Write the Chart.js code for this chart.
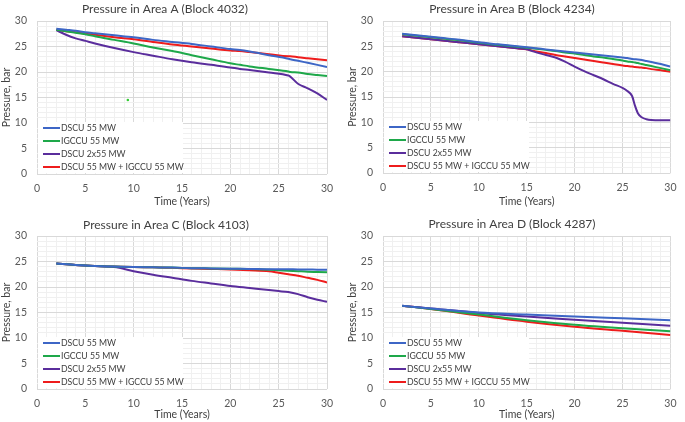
<!DOCTYPE html>
<html>
<head>
<meta charset="utf-8">
<script src="https://cdn.jsdelivr.net/npm/chart.js@4.4.1/dist/chart.umd.min.js"></script>
<style>
  html, body { margin: 0; padding: 0; background: #ffffff; }
  body { width: 685px; height: 422px; position: relative; overflow: hidden; }
  .panel { position: absolute; }
  canvas { display: block; }
</style>
</head>
<body>
<div class="panel" style="left:0px;top:0px;width:342px;height:211px"><canvas id="cA" width="342" height="211"></canvas></div>
<div class="panel" style="left:342px;top:0px;width:343px;height:211px"><canvas id="cB" width="343" height="211"></canvas></div>
<div class="panel" style="left:0px;top:211px;width:342px;height:211px"><canvas id="cC" width="342" height="211"></canvas></div>
<div class="panel" style="left:342px;top:211px;width:343px;height:211px"><canvas id="cD" width="343" height="211"></canvas></div>
<script>
// ---------- DATA ----------
const seriesNames = ['DSCU 55 MW', 'IGCCU 55 MW', 'DSCU 2x55 MW', 'DSCU 55 MW + IGCCU 55 MW'];
const panelTitles = ['Pressure in Area A (Block 4032)', 'Pressure in Area B (Block 4234)',
                     'Pressure in Area C (Block 4103)', 'Pressure in Area D (Block 4287)'];
const xAxisTitle = 'Time (Years)';
const yAxisTitle = 'Pressure, bar';
const axisTickLabels = [0, 5, 10, 15, 20, 25, 30];

// Area A
const yearsA = [2, 3, 4, 5, 6, 8, 10, 12, 14, 16, 18, 20, 21, 22, 24, 26, 26.2, 27, 28, 29, 30];
const dscuA  = [28.5, 28.3, 28.1, 27.8, 27.6, 27.2, 26.8, 26.3, 25.9, 25.5, 25.0, 24.5, 24.3, 24.0, 23.3, 22.6, 22.5, 22.2, 21.8, 21.4, 21.0];
const igccuA = [28.3, 28.0, 27.7, 27.4, 27.0, 26.3, 25.6, 24.8, 24.1, 23.3, 22.5, 21.7, 21.4, 21.1, 20.6, 20.1, 20.0, 19.9, 19.6, 19.4, 19.2];
const dscu2A = [28.2, 27.3, 26.6, 26.1, 25.6, 24.7, 23.9, 23.2, 22.5, 21.9, 21.4, 20.9, 20.6, 20.4, 19.9, 19.3, 19.1, 17.7, 16.8, 15.8, 14.5];
const comboA = [28.3, 28.0, 27.8, 27.5, 27.3, 26.8, 26.4, 25.9, 25.4, 25.0, 24.6, 24.2, 24.1, 23.9, 23.5, 23.1, 23.1, 22.9, 22.7, 22.5, 22.3];
const strayYearA = [9.4];
const strayValueA = [14.5];

// Area B
const yearsB = [2, 4, 6, 8, 10, 12, 14, 15, 15.5, 16, 17, 18, 19, 20, 21, 22, 23, 24, 25, 25.5, 26, 26.3, 26.6, 27, 27.5, 28, 29, 30];
const dscuB  = [27.5, 27.1, 26.7, 26.3, 25.8, 25.4, 25.0, 24.8, 24.7, 24.6, 24.4, 24.2, 24.0, 23.8, 23.6, 23.4, 23.2, 23.0, 22.8, 22.7, 22.5, 22.45, 22.4, 22.3, 22.1, 21.9, 21.5, 21.0];
const igccuB = [27.4, 27.0, 26.6, 26.2, 25.7, 25.3, 24.9, 24.7, 24.6, 24.5, 24.3, 24.1, 23.8, 23.6, 23.3, 23.0, 22.8, 22.5, 22.2, 22.0, 21.9, 21.8, 21.7, 21.5, 21.3, 21.1, 20.7, 20.3];
const dscu2B = [27.0, 26.6, 26.2, 25.8, 25.4, 25.0, 24.6, 24.4, 24.1, 23.8, 23.3, 22.8, 22.0, 21.0, 20.1, 19.3, 18.5, 17.6, 16.8, 16.2, 15.2, 13.3, 11.8, 11.0, 10.6, 10.45, 10.4, 10.4];
const comboB = [27.0, 26.6, 26.2, 25.8, 25.4, 25.0, 24.6, 24.4, 24.2, 24.0, 23.7, 23.3, 23.0, 22.7, 22.4, 22.1, 21.8, 21.5, 21.2, 21.1, 21.0, 20.9, 20.85, 20.8, 20.7, 20.5, 20.3, 20.0];

// Area C
const yearsC = [2, 4, 6, 8, 10, 12, 14, 16, 18, 20, 22, 24, 25, 26, 27, 28, 29, 30];
const dscuC  = [24.6, 24.3, 24.1, 24.0, 23.9, 23.85, 23.8, 23.7, 23.65, 23.6, 23.55, 23.5, 23.5, 23.5, 23.45, 23.45, 23.4, 23.4];
const igccuC = [24.6, 24.3, 24.1, 24.0, 23.9, 23.85, 23.8, 23.7, 23.65, 23.6, 23.55, 23.4, 23.3, 23.2, 23.1, 23.0, 22.95, 22.9];
const dscu2C = [24.6, 24.3, 24.1, 23.9, 23.1, 22.4, 21.8, 21.2, 20.7, 20.2, 19.8, 19.4, 19.2, 19.0, 18.6, 18.0, 17.5, 17.1];
const comboC = [24.6, 24.3, 24.1, 24.0, 23.9, 23.85, 23.75, 23.65, 23.55, 23.45, 23.3, 23.1, 22.8, 22.5, 22.2, 21.8, 21.4, 20.9];

// Area D
const yearsD = [2, 5, 10, 15, 20, 25, 30];
const dscuD  = [16.3, 15.8, 15.0, 14.6, 14.2, 13.85, 13.5];
const igccuD = [16.3, 15.7, 14.6, 13.5, 12.6, 11.9, 11.3];
const dscu2D = [16.3, 15.8, 14.9, 14.2, 13.6, 13.0, 12.4];
const comboD = [16.3, 15.7, 14.4, 13.2, 12.2, 11.4, 10.6];

// ---------- STYLE / LAYOUT ----------
const seriesColors = ['#3d66c6', '#1ea84a', '#5a2d9c', '#ee1c1c'];
const FONT = 'Lato, "Open Sans", sans-serif';

function pts(xs, ys) { return xs.map((x, i) => ({ x: x, y: ys[i] })); }

const panels = [
  { canvas: 'cA', title: panelTitles[0], years: yearsA, series: [dscuA, igccuA, dscu2A, comboA], stray: true,
    area: { l: 37, r: 327, t: 21, b: 174 }, titleX: 165, titleY: 9.5, yTitlePad: 0, xTitlePad: 2.6 },
  { canvas: 'cB', title: panelTitles[1], years: yearsB, series: [dscuB, igccuB, dscu2B, comboB], stray: false,
    area: { l: 41, r: 332, t: 21, b: 173 }, titleX: 170, titleY: 9.5, yTitlePad: 4.5, xTitlePad: 2.9 },
  { canvas: 'cC', title: panelTitles[2], years: yearsC, series: [dscuC, igccuC, dscu2C, comboC], stray: false,
    area: { l: 37, r: 327, t: 25, b: 178 }, titleX: 166, titleY: 14, yTitlePad: 0, xTitlePad: 0.6 },
  { canvas: 'cD', title: panelTitles[3], years: yearsD, series: [dscuD, igccuD, dscu2D, comboD], stray: false,
    area: { l: 41, r: 332, t: 25, b: 178 }, titleX: 170, titleY: 13.5, yTitlePad: 4.5, xTitlePad: 0.6 }
];

const titlePlugin = {
  id: 'panelTitle',
  afterDraw(chart, args, opts) {
    const ctx = chart.ctx;
    ctx.save();
    ctx.font = '12px ' + FONT;
    ctx.fillStyle = '#404040';
    ctx.textAlign = 'center';
    ctx.textBaseline = 'middle';
    ctx.fillText(opts.text, opts.x, opts.y);
    ctx.restore();
  }
};

const legendPlugin = {
  id: 'insideLegend',
  beforeDatasetsDraw(chart) {
    const ctx = chart.ctx;
    const a = chart.chartArea;
    ctx.save();
    ctx.fillStyle = '#ffffff';
    ctx.fillRect(a.left + 1, a.bottom - 52, 145, 51);
    ctx.font = '8.7px ' + FONT;
    ctx.textBaseline = 'middle';
    ctx.textAlign = 'left';
    for (let i = 0; i < 4; i++) {
      const ds = chart.data.datasets[i];
      const y = a.bottom - 7 - (3 - i) * 13;
      ctx.strokeStyle = ds.borderColor;
      ctx.lineWidth = 2;
      ctx.beginPath();
      ctx.moveTo(a.left + 6, y);
      ctx.lineTo(a.left + 23, y);
      ctx.stroke();
      ctx.fillStyle = '#404040';
      ctx.fillText(ds.label, a.left + 24, y + 0.5);
    }
    ctx.restore();
  }
};

function gridColor(c) {
  if (!c.tick) return '#f0f0f0';
  return axisTickLabels.includes(c.tick.value) ? '#d9d9d9' : '#f0f0f0';
}
function tickLabel(v) { return axisTickLabels.includes(v) ? String(v) : ''; }

panels.forEach(p => {
  const cv = document.getElementById(p.canvas);
  const W = cv.width, H = cv.height;
  const datasets = p.series.map((vals, i) => ({
    label: seriesNames[i],
    data: pts(p.years, vals),
    borderColor: seriesColors[i],
    backgroundColor: seriesColors[i],
    borderWidth: 2,
    pointRadius: 0,
    fill: false,
    cubicInterpolationMode: 'monotone'
  }));
  if (p.stray) {
    datasets.push({
      label: '',
      data: pts(strayYearA, strayValueA),
      showLine: false,
      pointRadius: 1.3,
      pointBorderWidth: 0,
      borderColor: '#33cc33',
      backgroundColor: '#33cc33'
    });
  }
  new Chart(cv, {
    type: 'line',
    data: { datasets: datasets },
    plugins: [titlePlugin, legendPlugin],
    options: {
      responsive: false,
      animation: false,
      devicePixelRatio: 1,
      layout: { padding: { top: p.area.t, right: W - p.area.r, left: 0, bottom: 0 } },
      plugins: {
        legend: { display: false },
        tooltip: { enabled: false },
        panelTitle: { text: p.title, x: p.titleX, y: p.titleY }
      },
      scales: {
        x: {
          type: 'linear', min: 0, max: 30,
          afterFit(s) { s.height = H - p.area.b; },
          grid: { color: gridColor, lineWidth: 1, drawTicks: false },
          border: { display: false },
          ticks: { stepSize: 1, autoSkip: false, maxRotation: 0, padding: 8.5,
                   color: '#595959', font: { family: FONT, size: 10.5 }, callback: tickLabel },
          title: { display: true, text: xAxisTitle, color: '#404040',
                   font: { family: FONT, size: 10.5 }, padding: { top: 0, bottom: p.xTitlePad } }
        },
        y: {
          type: 'linear', min: 0, max: 30,
          afterFit(s) { s.width = p.area.l; },
          grid: { color: gridColor, lineWidth: 1, drawTicks: false },
          border: { display: false },
          ticks: { stepSize: 1, autoSkip: false, padding: 10,
                   color: '#595959', font: { family: FONT, size: 10.5 }, callback: tickLabel },
          title: { display: true, text: yAxisTitle, color: '#404040',
                   font: { family: FONT, size: 10.5 }, padding: { top: p.yTitlePad, bottom: 0 } }
        }
      }
    }
  });
});
</script>
</body>
</html>
